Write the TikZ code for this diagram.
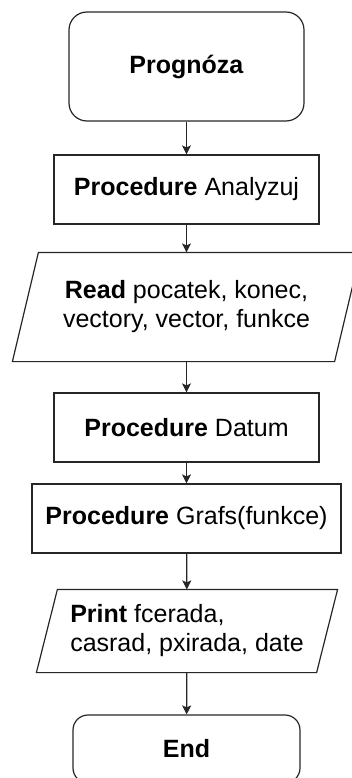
\documentclass[tikz,border=0pt]{standalone}
\usepackage{fontspec}
\setmainfont{Liberation Sans}
\usetikzlibrary{arrows.meta}
\begin{document}
\begin{tikzpicture}[x=1pt,y=-1pt,
  base/.style={font=\fontsize{25}{29}\selectfont, inner sep=0pt, line width=1.2pt, draw=black!85},
  term/.style={base, draw, rounded corners=18pt},
  procbox/.style={base, draw, minimum height=69pt},
  iobox/.style={base, draw=none},
  conn/.style={line width=1.2pt, draw=black!85, -{Stealth[length=9pt,width=9pt,inset=2pt]}}
]
\useasboundingbox (0,0) rectangle (352,778);
\node[term, minimum width=235pt, minimum height=109pt] (start) at (186.5,66.5) {\textbf{Prognóza}};
\node[procbox, minimum width=265pt] (p1) at (186.5,189.5) {\textbf{Procedure} Analyzuj};
\node[iobox, minimum width=321pt, minimum height=108pt, align=center] (read) at (186.5,307) {\textbf{Read} pocatek, konec,\\vectory, vector, funkce};
\draw[base] ([xshift=13pt]read.north west) -- ([xshift=13pt]read.north east) -- ([xshift=-13pt]read.south east) -- ([xshift=-13pt]read.south west) -- cycle;
\node[procbox, minimum width=265pt] (p2) at (186.5,427.5) {\textbf{Procedure} Datum};
\node[procbox, minimum width=309pt] (p3) at (186.5,518.5) {\textbf{Procedure} Grafs(funkce)};
\node[iobox, minimum width=279pt, minimum height=82pt, align=left] (print) at (187,631) {\textbf{Print} fcerada,\\casrad, pxirada, date};
\draw[base] ([xshift=10.5pt]print.north west) -- ([xshift=10.5pt]print.north east) -- ([xshift=-10.5pt]print.south east) -- ([xshift=-10.5pt]print.south west) -- cycle;
\node[term, rounded corners=15pt, minimum width=227pt, minimum height=68pt] (end) at (186.5,749) {\textbf{End}};
\draw[conn] (start) -- (p1);
\draw[conn] (p1) -- (read);
\draw[conn] (read) -- (p2);
\draw[conn] (p2) -- (p3);
\draw[conn] (p3) -- (print);
\draw[conn] (print) -- (end);
\end{tikzpicture}
\end{document}
